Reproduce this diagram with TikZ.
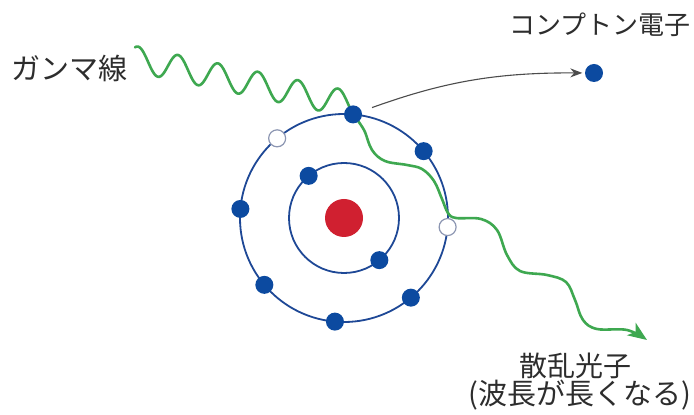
\documentclass[tikz,border=0pt]{standalone}
\usepackage{fontspec}
\newfontfamily\jp{Noto Sans CJK JP}
\usetikzlibrary{arrows.meta}
\pgfdeclarelayer{bg}
\pgfsetlayers{bg,main}
\definecolor{orbitblue}{RGB}{30,72,150}
\definecolor{elecblue}{RGB}{12,74,160}
\definecolor{nucred}{RGB}{208,32,48}
\definecolor{photongreen}{RGB}{62,168,80}
\definecolor{hollowedge}{RGB}{140,150,178}
\definecolor{textgray}{RGB}{45,45,45}
\begin{document}
\begin{tikzpicture}[x=1pt,y=1pt,
  orbit/.style={draw=orbitblue, line width=1.8pt},
  electron/.style={circle, fill=elecblue, minimum size=18pt, inner sep=0pt},
  hole/.style={circle, fill=white, draw=hollowedge, line width=1.2pt, minimum size=17pt, inner sep=0pt},
  nucleus/.style={circle, fill=nucred, minimum size=38pt, inner sep=0pt},
  photon/.style={draw=photongreen, line width=2.6pt, line cap=round, line join=round},
  txt/.style={text=textgray, inner sep=0pt}]
  \useasboundingbox (0,0) rectangle (694,415);

  % atom: nucleus and shells
  \coordinate (c) at (344,197);
  \node[nucleus] (nuc) at (c) {};
  % inner shell electrons
  \path (c) ++(130:55) node[electron] (i130) {};
  \path (c) ++(310:55) node[electron] (i310) {};
  % outer shell electrons and vacancies
  \path (c) ++(40:104)  node[electron] (o40) {};
  \path (c) ++(85:104)  node[electron] (o85) {};
  \path (c) ++(130:104) node[hole] (o130) {};
  \path (c) ++(175:104) node[electron] (o175) {};
  \path (c) ++(220:104) node[electron] (o220) {};
  \path (c) ++(265:104) node[electron] (o265) {};
  \path (c) ++(310:104) node[electron] (o310) {};
  \path (c) ++(355:104) node[hole] (o355) {};

  % recoil electron
  \node[electron] (ce) at (594,342) {};

  \begin{pgfonlayer}{bg}
    \fill[white] (0,0) rectangle (694,415);
    \draw[orbit] (c) circle[radius=104];
    \draw[orbit] (c) circle[radius=55];
    % incoming gamma ray
    \coordinate (gstart) at (135,367.6);
    \draw[photon] plot[domain=135:353, samples=240]
      (\x, {347 - 0.21*(\x-178) + 13*cos(9*(\x-178))});
    % scattered photon
    \coordinate (stip) at (647,75);
    \draw[photon, -{Stealth[length=19pt, width=15pt, inset=5pt]}]
      plot[smooth, tension=0.6] coordinates {(o85) (364,285) (372,265) (385,254)
        (407,250) (422,246) (434,234) (442,216) (448,202) (456,197) (481,196)
        (497,185) (507,160) (520,144) (547,140) (566,133) (575,115) (583,95)
        (597,86) (627,85) (stip)};
  \end{pgfonlayer}

  % recoil direction
  \draw[line width=1.1pt, draw=black!70, shorten <=11pt, shorten >=2.5pt,
        -{Stealth[length=12pt, width=9pt]}] (o85) to[bend left=10] (ce);

  % labels
  \node[txt, font=\jp\fontsize{29}{32}\selectfont] (lgamma) at (70,347) {ガンマ線};
  \node[txt, font=\jp\fontsize{26}{30}\selectfont] (lcompton) at (600,390) {コンプトン電子};
  \node[txt, font=\jp\fontsize{28}{32}\selectfont] (lscat) at (575.5,49) {散乱光子};
  \node[txt, font=\jp\fontsize{29}{32}\selectfont] (lnote) at (580,19.5) {(波長が長くなる)};
\end{tikzpicture}
\end{document}
